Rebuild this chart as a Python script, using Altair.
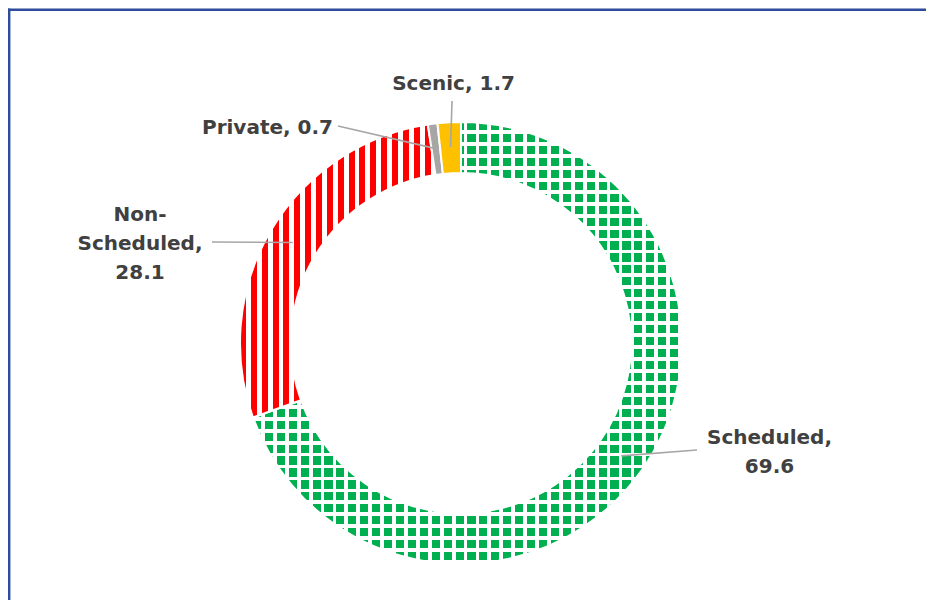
import altair as alt
import pandas as pd

# ---- data -------------------------------------------------------------
categories = ["Scheduled", "Non-Scheduled", "Private", "Scenic"]
values = [69.6, 28.1, 0.7, 1.7]
labels = ["Scheduled,\n69.6", "Non-\nScheduled,\n28.1", "Private, 0.7", "Scenic, 1.7"]

# ---- layout (view pixels) for annotations -----------------------------
text_x = [761.5, 132, 259.5, 445.5]
text_y = [430, 207, 120, 76]
leader_x = [689, 204, 330, 444]
leader_y = [442, 234, 118, 93]

W, H = 918, 592
CX, CY = 453, 335
R_IN, R_OUT, R_MID = 170, 221, 196

df = pd.DataFrame({
    "category": categories,
    "value": values,
    "order": list(range(len(categories))),
    "label": labels,
    "tx": text_x,
    "ty": text_y,
    "lx": leader_x,
    "ly": leader_y,
})


def stripes(n, frac, c_on, c_off, vertical=True):
    stops = []
    for k in range(n):
        s = k / n
        m = (k + frac) / n
        e = (k + 1) / n
        stops += [
            {"offset": round(s, 5), "color": c_on},
            {"offset": round(m, 5), "color": c_on},
            {"offset": round(m, 5), "color": c_off},
            {"offset": round(e, 5), "color": c_off},
        ]
    return {
        "gradient": "linear",
        "x1": 0, "y1": 0,
        "x2": 1 if vertical else 0,
        "y2": 0 if vertical else 1,
        "stops": stops,
    }


GREEN = "#00B050"
RED = "#FF0000"
GRAY = "#A6A6A6"
ORANGE = "#FFC000"

green_v = stripes(36, 0.68, GREEN, "#FFFFFF", vertical=True)
green_h = stripes(37, 0.68, "rgba(255,255,255,0)", "#FFFFFF", vertical=False)
red_v = stripes(18, 0.55, RED, "#FFFFFF", vertical=True)

base = (
    alt.Chart(df)
    .transform_joinaggregate(total="sum(value)")
    .transform_window(cum="sum(value)", sort=[alt.SortField("order")], frame=[None, 0])
    .transform_calculate(a1="2*PI*datum.cum/datum.total")
    .transform_calculate(a0="2*PI*(datum.cum-datum.value)/datum.total")
    .transform_calculate(am="(datum.a0+datum.a1)/2")
    .transform_calculate(ex=f"{CX}+{R_MID}*sin(datum.am)")
    .transform_calculate(ey=f"{CY}-{R_MID}*cos(datum.am)")
)

arc_enc = dict(
    theta=alt.Theta("a0:Q", scale=None),
    theta2="a1:Q",
    x=alt.value(CX),
    y=alt.value(CY),
)


def slice_layer(cat, fill, stroke=True):
    kw = dict(innerRadius=R_IN, outerRadius=R_OUT, fill=fill)
    if stroke:
        kw.update(stroke="white", strokeWidth=2)
    else:
        kw.update(strokeWidth=0)
    return base.transform_filter(alt.datum.category == cat).mark_arc(**kw).encode(**arc_enc)


green = slice_layer("Scheduled", green_v)
green_grid = slice_layer("Scheduled", green_h, stroke=False)
red = slice_layer("Non-Scheduled", red_v)
gray = slice_layer("Private", GRAY)
orange = slice_layer("Scenic", ORANGE)

leaders = base.mark_rule(color=GRAY, strokeWidth=1.6).encode(
    x=alt.X("lx:Q", scale=None),
    y=alt.Y("ly:Q", scale=None),
    x2="ex:Q",
    y2="ey:Q",
)

texts = base.mark_text(
    font="DejaVu Sans",
    fontSize=20,
    fontWeight="bold",
    color="#404040",
    lineBreak="\n",
    lineHeight=29,
    align="center",
    baseline="middle",
).encode(
    x=alt.X("tx:Q", scale=None),
    y=alt.Y("ty:Q", scale=None),
    text="label:N",
)

dummy = pd.DataFrame({"k": [0]})
frame_top = alt.Chart(dummy).mark_rule(color="#2F4B9C", strokeWidth=2.4).encode(
    x=alt.value(0), x2=alt.value(W), y=alt.value(1.8)
)
frame_left = alt.Chart(dummy).mark_rule(color="#2F4B9C", strokeWidth=2.4).encode(
    x=alt.value(1.2), y=alt.value(0.6), y2=alt.value(H)
)

chart = (
    alt.layer(frame_top, frame_left, green, green_grid, red, gray, orange, leaders, texts)
    .properties(width=W, height=H, autosize=alt.AutoSizeParams(type="none"), padding=0)
    .configure_view(strokeWidth=0)
)

chart.save("out.html", embed_options={"renderer": "svg", "actions": False})
